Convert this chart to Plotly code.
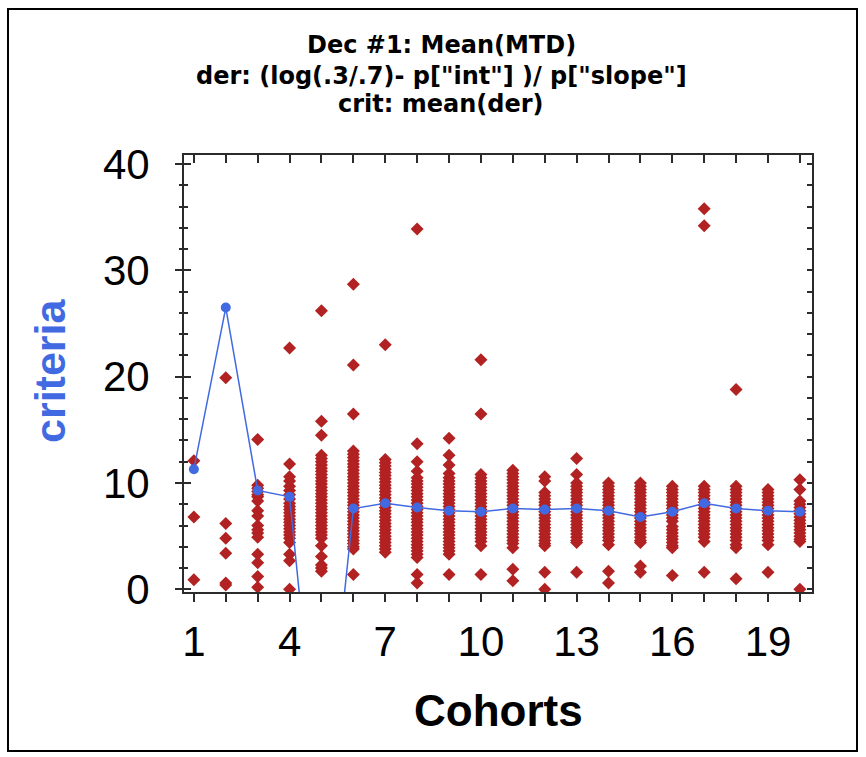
import plotly.graph_objects as go

# ---------------- data ----------------
cohorts = list(range(1, 21))

# individual "der" values per cohort
der_values = {
    1: [12.1, 6.8, 0.9],
    2: [19.9, 6.2, 4.8, 3.4, 0.6, 0.4],
    3: [14.1, 9.8, 9.5, 9.2, 8.9, 8.7, 8.3, 7.4, 6.9, 6.0, 5.6, 5.3, 4.9, 3.3, 2.5, 1.2, 0.2],
    4: [22.7, 11.8, 10.6, 10.2, 9.7, 9.3, 8.9, 8.5, 8.1, 7.8, 7.5, 7.2, 6.9, 6.6, 6.3, 6.0,
        5.7, 5.4, 5.1, 4.8, 4.4, 3.3, 2.7, 0.0],
    5: [26.2, 15.8, 14.5, 12.6, 12.3, 12.0, 11.7, 11.4, 11.1, 10.8, 10.5, 10.2, 9.9, 9.6, 9.3,
        9.0, 8.7, 8.4, 8.1, 7.8, 7.5, 7.2, 6.9, 6.6, 6.3, 6.0, 5.7, 5.4, 5.1, 4.8, 4.1, 3.1,
        2.3, 2.0, 1.7],
    6: [28.7, 21.1, 16.5, 13.0, 12.7, 12.4, 12.1, 11.8, 11.5, 11.2, 10.9, 10.6, 10.3, 10.0, 9.7,
        9.4, 9.1, 8.8, 8.5, 8.2, 7.9, 7.6, 7.3, 7.0, 6.7, 6.4, 6.1, 5.8, 5.5, 5.2, 4.9, 4.6,
        4.3, 4.0, 3.8, 1.4],
    7: [23.0, 12.2, 11.9, 11.6, 11.3, 11.0, 10.7, 10.4, 10.1, 9.8, 9.5, 9.2, 8.9, 8.6, 8.3, 8.0,
        7.7, 7.4, 7.1, 6.8, 6.5, 6.2, 5.9, 5.6, 5.3, 5.0, 4.7, 4.4, 4.1, 3.8, 3.5],
    8: [33.9, 13.7, 12.0, 11.1, 10.5, 10.2, 9.9, 9.6, 9.3, 9.0, 8.7, 8.4, 8.1, 7.8, 7.5, 7.2,
        6.9, 6.6, 6.3, 6.0, 5.7, 5.4, 5.1, 4.8, 4.5, 4.2, 3.9, 3.6, 3.3, 3.0, 1.4, 0.6],
    9: [14.2, 12.6, 11.7, 10.9, 10.5, 10.2, 9.9, 9.6, 9.3, 9.0, 8.7, 8.4, 8.1, 7.8, 7.5, 7.2,
        6.9, 6.6, 6.3, 6.0, 5.7, 5.4, 5.1, 4.8, 4.5, 4.2, 3.9, 3.6, 3.3, 1.4],
    10: [21.6, 16.5, 10.8, 10.5, 10.2, 9.9, 9.6, 9.3, 9.0, 8.7, 8.4, 8.1, 7.8, 7.5, 7.2, 6.9,
         6.6, 6.3, 6.0, 5.7, 5.4, 5.1, 4.8, 4.5, 4.1, 1.4],
    11: [11.2, 10.9, 10.6, 10.3, 10.0, 9.7, 9.4, 9.1, 8.8, 8.5, 8.2, 7.9, 7.6, 7.3, 7.0, 6.7,
         6.4, 6.1, 5.8, 5.5, 5.2, 4.9, 4.6, 4.3, 3.9, 1.9, 0.8],
    12: [10.6, 10.2, 9.1, 8.8, 8.5, 8.2, 7.9, 7.6, 7.3, 7.0, 6.7, 6.4, 6.1, 5.8, 5.5, 5.2, 4.9,
         4.6, 4.3, 4.1, 1.6, 0.0],
    13: [12.3, 10.8, 10.0, 9.7, 9.4, 9.1, 8.8, 8.5, 8.2, 7.9, 7.6, 7.3, 7.0, 6.7, 6.4, 6.1,
         5.8, 5.5, 5.2, 4.9, 4.6, 4.4, 1.6],
    14: [10.0, 9.7, 9.4, 9.1, 8.8, 8.5, 8.2, 7.9, 7.6, 7.3, 7.0, 6.7, 6.4, 6.1, 5.8, 5.5, 5.2,
         4.9, 4.6, 4.2, 1.7, 0.6],
    15: [10.0, 9.7, 9.4, 9.1, 8.8, 8.5, 8.2, 7.9, 7.6, 7.3, 7.0, 6.7, 6.4, 6.1, 5.8, 5.5, 5.2,
         4.9, 4.6, 4.4, 2.2, 1.6],
    16: [9.7, 9.4, 9.1, 8.8, 8.5, 8.2, 7.9, 7.6, 7.3, 7.0, 6.7, 6.4, 5.9, 5.6, 5.3, 5.0, 4.7,
         4.4, 4.1, 3.9, 1.3],
    17: [35.8, 34.2, 9.7, 9.4, 9.1, 8.8, 8.5, 8.2, 7.9, 7.6, 7.3, 7.0, 6.7, 6.4, 6.1, 5.8, 5.5,
         5.2, 4.9, 4.5, 1.6],
    18: [18.8, 9.7, 9.4, 9.1, 8.8, 8.5, 8.2, 7.9, 7.6, 7.3, 7.0, 6.7, 6.4, 6.1, 5.8, 5.5, 5.2,
         4.9, 4.6, 4.2, 3.9, 1.0],
    19: [9.4, 9.1, 8.8, 8.5, 8.2, 7.9, 7.6, 7.3, 7.0, 6.7, 6.4, 6.1, 5.8, 5.5, 5.2, 4.9, 4.6,
         4.2, 1.6],
    20: [10.3, 9.4, 8.3, 8.0, 7.7, 7.4, 7.1, 6.8, 6.5, 6.2, 5.9, 5.6, 5.3, 5.0, 4.7, 4.5, 0.0],
}

# criteria (mean of der) per cohort; cohort 5 lies far below the visible range
criteria = [11.3, 26.5, 9.3, 8.7, -21.0, 7.6, 8.1, 7.7, 7.4, 7.3,
            7.6, 7.5, 7.6, 7.4, 6.8, 7.3, 8.1, 7.6, 7.4, 7.3]

x_tickvals = list(range(1, 21))
x_ticktext = ["1", "", "", "4", "", "", "7", "", "", "10", "", "", "13", "", "", "16", "", "", "19", ""]
y_tickvals = [0, 10, 20, 30, 40]
y_ticktext = ["0", "10", "20", "30", "40"]

title_lines = ['Dec #1: Mean(MTD)',
               'der: (log(.3/.7)- p["int"] )/ p["slope"]',
               'crit: mean(der)']
x_title = "Cohorts"
y_title = "criteria"

# ---------------- layout geometry ----------------
W, H = 866, 757
ML, MR, MT, MB = 184, 54, 155, 165
PW, PH = W - ML - MR, H - MT - MB
XR = [0.69, 20.38]
YR = [-0.25, 40.85]

def px_x(p):
    return (p - ML) / PW

def px_y(p):
    return (H - MB - p) / PH

FONT = "Liberation Sans, Arial, sans-serif"
TFONT = "DejaVu Sans, Verdana, sans-serif"
RED = "#B22222"
BLUE = "#4169E1"
AX = "#2b2b2b"

fig = go.Figure()

sx, sy = [], []
for c in cohorts:
    for v in der_values[c]:
        sx.append(c)
        sy.append(v)

fig.add_trace(go.Scatter(
    x=sx, y=sy, mode="markers",
    marker=dict(symbol="diamond", size=10, color=RED, line=dict(width=0)),
    showlegend=False, hoverinfo="x+y"))

fig.add_trace(go.Scatter(
    x=cohorts, y=criteria, mode="lines+markers",
    line=dict(color=BLUE, width=1.5),
    marker=dict(symbol="circle", size=10, color=BLUE),
    showlegend=False))

# empty traces to activate the helper axes
fig.add_trace(go.Scatter(x=[], y=[], xaxis="x2", yaxis="y2", showlegend=False, hoverinfo="skip"))
fig.add_trace(go.Scatter(x=[], y=[], xaxis="x", yaxis="y3", showlegend=False, hoverinfo="skip"))

fig.update_layout(
    width=W, height=H,
    margin=dict(l=ML, r=MR, t=MT, b=MB, pad=0),
    paper_bgcolor="white", plot_bgcolor="white",
    showlegend=False,
    font=dict(family=FONT, color="black"),
    xaxis=dict(range=XR, tickmode="array", tickvals=x_tickvals, ticktext=x_ticktext,
               ticks="outside", ticklen=8, tickwidth=1.5, tickcolor=AX,
               showline=True, linewidth=2, linecolor=AX, showgrid=False, zeroline=False,
               tickfont=dict(size=42, family=FONT, color="black"), ticklabelstandoff=4),
    xaxis2=dict(range=XR, overlaying="x", side="top", anchor="y2",
                tickmode="array", tickvals=x_tickvals, showticklabels=False,
                ticks="inside", ticklen=8, tickwidth=1.5, tickcolor=AX,
                showline=True, linewidth=2, linecolor=AX, showgrid=False, zeroline=False),
    yaxis=dict(range=YR, tickmode="array", tickvals=y_tickvals, ticktext=y_ticktext,
               ticks="outside", ticklen=7, tickwidth=1.5, tickcolor=AX,
               minor=dict(ticks="outside", ticklen=3, dtick=2, tick0=0, tickwidth=1.5, tickcolor=AX, showgrid=False),
               showline=True, linewidth=2, linecolor=AX, showgrid=False, zeroline=False,
               tickfont=dict(size=42, family=FONT, color="black"), ticklabelstandoff=17),
    yaxis2=dict(range=YR, overlaying="y", side="right", anchor="x2",
                tickmode="linear", tick0=0, dtick=2, showticklabels=False,
                ticks="inside", ticklen=5, tickwidth=1.5, tickcolor=AX,
                showline=True, linewidth=2, linecolor=AX, showgrid=False, zeroline=False),
    yaxis3=dict(range=YR, overlaying="y", side="left", anchor="x",
                tickmode="array", tickvals=y_tickvals, showticklabels=False,
                ticks="inside", ticklen=7, tickwidth=1.5, tickcolor=AX,
                minor=dict(ticks="inside", ticklen=4, dtick=2, tick0=0, tickwidth=1.5, tickcolor=AX, showgrid=False),
                showline=False, showgrid=False, zeroline=False),
)

# title lines
title_y = [45, 76, 104]
for txt, yy in zip(title_lines, title_y):
    fig.add_annotation(text="<b>" + txt + "</b>", xref="paper", yref="paper",
                       x=px_x(441), y=px_y(yy), xanchor="center", yanchor="middle",
                       showarrow=False, font=dict(size=24, family=TFONT, color="black"))

fig.add_annotation(text="<b>" + x_title + "</b>", xref="paper", yref="paper",
                   x=px_x(498), y=px_y(710), xanchor="center", yanchor="middle",
                   showarrow=False, font=dict(size=44, family=FONT, color="black"))
fig.add_annotation(text="<b>" + y_title + "</b>", xref="paper", yref="paper",
                   x=px_x(50), y=px_y(371), xanchor="center", yanchor="middle", textangle=-90,
                   showarrow=False, font=dict(size=43, family=FONT, color=BLUE))

# outer frame
fig.add_shape(type="rect", xref="paper", yref="paper",
              x0=px_x(8), x1=px_x(857), y0=px_y(751), y1=px_y(9),
              line=dict(color="black", width=2), fillcolor="rgba(0,0,0,0)", layer="below")

fig.write_html("out.html")
